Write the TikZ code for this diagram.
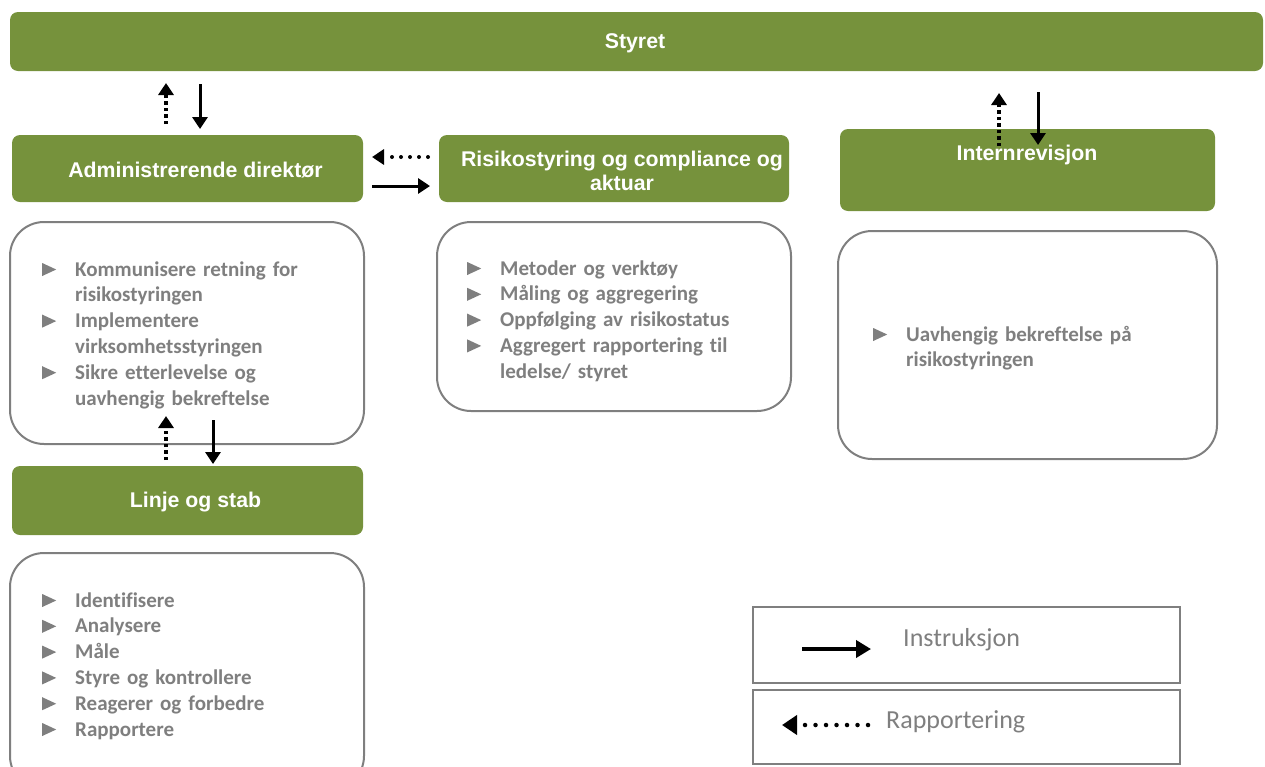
\documentclass[tikz,border=0pt]{standalone}
\usepackage{fontspec}
\setmainfont{Carlito}[Ligatures=NoCommon]
\newfontfamily\hdrfont{Liberation Sans}
\usetikzlibrary{arrows.meta}
\definecolor{olv}{HTML}{76923C}
\definecolor{txtgray}{HTML}{7F7F7F}
\definecolor{boxgray}{HTML}{7F7F7F}
\newcommand\bul{\tikz[baseline=0pt]\fill[txtgray] (0pt,0pt) -- (0pt,13pt) -- (14pt,6.5pt) -- cycle;}
\newcommand\itm[1]{\par\noindent\hangindent=33pt\hangafter=1\makebox[33pt][l]{\rule{0pt}{20pt}\bul}#1\par}
\begin{document}
\begin{tikzpicture}[x=1pt,y=-1pt,
 gbox/.style={fill=olv, rounded corners=8pt, inner sep=0pt},
 gtext/.style={text=white, font=\hdrfont\bfseries\fontsize{21.3}{24}\selectfont, align=center, inner sep=0pt},
 wbox/.style={draw=boxgray, line width=2pt, rounded corners=34pt, fill=white, inner sep=0pt},
 lbox/.style={draw=boxgray, line width=1.5pt, inner sep=0pt},
 bullets/.style={anchor=north west, inner sep=0pt, text width=#1, align=left, text=txtgray, font=\bfseries\fontsize{21}{25.8}\selectfont},
 legtext/.style={anchor=west, inner sep=0pt, text=txtgray, font=\fontsize{26}{30}\selectfont},
 ins/.style={line width=3pt, -{Triangle[length=12pt,width=15pt]}},
 rep/.style={line width=4pt, dash pattern=on 3.5pt off 3pt, -{Triangle[length=12pt,width=15pt]}},
 reph/.style={line width=4pt, line cap=round, dash pattern=on 0pt off 9pt, -{Triangle[length=12pt,width=15pt]}},
 insleg/.style={line width=4pt, -{Triangle[length=15pt,width=17pt]}},
 repleg/.style={line width=4.5pt, line cap=round, dash pattern=on 0pt off 10.5pt, -{Triangle[length=15pt,width=19pt]}},
]
\useasboundingbox (0,0) rectangle (1265,766);
\clip (0,0) rectangle (1265,766);

% green header boxes
\node[gbox, minimum width=1253pt, minimum height=59pt] (styret) at (636.5,41.5) {};
\node[gtext] (styrettxt) at (635,43) {Styret};
\node[gbox, minimum width=351pt, minimum height=67pt] (adm) at (187.5,168.5) {};
\node[gtext] (admtxt) at (195.5,170) {Administrerende direktør};
\node[gbox, minimum width=350pt, minimum height=67pt] (risk) at (614,168.5) {};
\node[gtext] (risktxt) at (622,171) {Risikostyring og compliance og\\aktuar};
\node[gbox, minimum width=375pt, minimum height=82pt] (intern) at (1027.5,170) {};
\node[gtext] (interntxt) at (1027,155) {Internrevisjon};
\node[gbox, minimum width=351pt, minimum height=69pt] (linje) at (187.5,500.5) {};
\node[gtext] (linjetxt) at (195.5,502) {Linje og stab};

% white rounded boxes
\node[wbox, minimum width=354pt, minimum height=222pt] (b1) at (187,333) {};
\node[wbox, minimum width=354pt, minimum height=189pt] (b2) at (614,316.5) {};
\node[wbox, minimum width=379pt, minimum height=228pt] (b3) at (1027.5,345) {};
\node[wbox, minimum width=354pt, minimum height=237pt] (b4) at (187,671.5) {};

% lists
\node[bullets=320pt] (t1) at (42,250) {%
\itm{Kommunisere retning for\newline risikostyringen}
\itm{Implementere\newline virksomhetsstyringen}
\itm{Sikre etterlevelse og\newline uavhengig bekreftelse}};
\node[bullets=330pt] (t2) at (467,249) {%
\itm{Metoder og verktøy}
\itm{Måling og aggregering}
\itm{Oppfølging av risikostatus}
\itm{Aggregert rapportering til\newline ledelse/ styret}};
\node[bullets=340pt] (t3) at (873,315) {%
\itm{Uavhengig bekreftelse på\newline risikostyringen}};
\node[bullets=320pt] (t4) at (42,581) {%
\itm{Identifisere}
\itm{Analysere}
\itm{Måle}
\itm{Styre og kontrollere}
\itm{Reagerer og forbedre}
\itm{Rapportere}};

% legend
\node[lbox, minimum width=427pt, minimum height=76pt] (leg1) at (966.5,645) {};
\node[lbox, minimum width=427pt, minimum height=74pt] (leg2) at (966.5,727) {};
\node[legtext] (legins) at (903,640) {Instruksjon};
\node[legtext] (legrep) at (886,722) {Rapportering};

% connector coordinates
\coordinate (a1) at (166,124); \coordinate (a2) at (166,83);
\coordinate (a3) at (200,84);  \coordinate (a4) at (200,129);
\coordinate (h1) at (428,157); \coordinate (h2) at (372,157);
\coordinate (h3) at (372,186); \coordinate (h4) at (430,186);
\coordinate (i1) at (999,146); \coordinate (i2) at (999,93);
\coordinate (i3) at (1038,92); \coordinate (i4) at (1038,145);
\coordinate (l1) at (166,460); \coordinate (l2) at (166,416);
\coordinate (l3) at (213,420); \coordinate (l4) at (213,464);
\coordinate (g1) at (802,649); \coordinate (g2) at (871,649);
\coordinate (g3) at (868,725); \coordinate (g4) at (782,725);

\draw[rep] (a1) -- (a2);
\draw[ins] (a3) -- (a4);
\draw[reph] (h1) -- (h2);
\draw[ins] (h3) -- (h4);
\draw[rep] (i1) -- (i2);
\draw[ins] (i3) -- (i4);
\draw[rep] (l1) -- (l2);
\draw[ins] (l3) -- (l4);
\draw[insleg] (g1) -- (g2);
\draw[repleg] (g3) -- (g4);
\end{tikzpicture}
\end{document}
